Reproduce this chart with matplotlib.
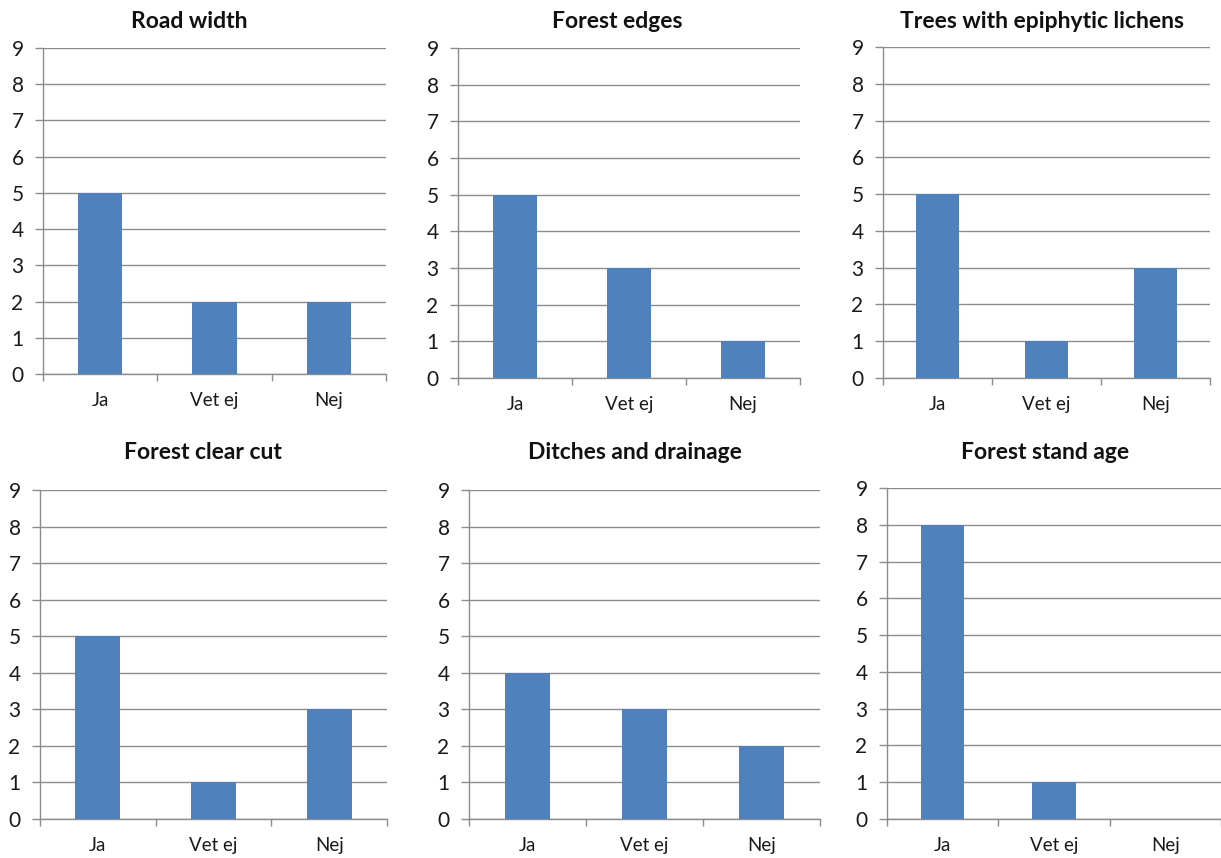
import matplotlib
matplotlib.use("Agg")
import matplotlib.pyplot as plt
import numpy as np

plt.rcParams["font.family"] = ["Lato", "DejaVu Sans"]

categories = ["Ja", "Vet ej", "Nej"]
titles = ["Road width", "Forest edges", "Trees with epiphytic lichens",
          "Forest clear cut", "Ditches and drainage", "Forest stand age"]
road_width = [5, 2, 2]
forest_edges = [5, 3, 1]
epiphytic_lichens = [5, 1, 3]
clear_cut = [5, 1, 3]
ditches = [4, 3, 2]
stand_age = [8, 1, 0]
series = [road_width, forest_edges, epiphytic_lichens, clear_cut, ditches, stand_age]

W, H = 1221, 858
# plot areas in pixels: left, right, top, bottom
boxes = [(43, 386, 48, 374), (458, 800, 48, 378), (883, 1210, 47, 378),
         (40, 387, 490, 819), (469, 820, 490, 819), (887, 1221, 488, 819)]
# chart title centres in pixels (centred on the whole chart block, not the plot area)
title_pos = [(189, 22), (617, 21), (1042, 21), (203, 452), (635, 452), (1045, 452)]

BAR = "#4F81BD"
GRID = "#8c8c8c"
TXT = "#1a1a1a"

fig = plt.figure(figsize=(W / 100, H / 100), dpi=100)
for (l, r, t, b), (tx, ty), title, vals in zip(boxes, title_pos, titles, series):
    ax = fig.add_axes([l / W, 1 - b / H, (r - l) / W, (b - t) / H])
    x = np.arange(len(categories))
    ax.bar(x, vals, width=0.39, color=BAR, zorder=3)
    ax.set_xlim(-0.5, 2.5)
    ax.set_ylim(0, 9)
    ax.set_yticks(range(10))
    ax.yaxis.grid(True, color=GRID, lw=1)
    ax.set_axisbelow(True)
    for s in ["top", "right"]:
        ax.spines[s].set_visible(False)
    for s in ["left", "bottom"]:
        ax.spines[s].set_color(GRID)
        ax.spines[s].set_linewidth(1)
    ax.set_xticks(x)
    ax.set_xticklabels(categories)
    ax.set_xticks([-0.5, 0.5, 1.5, 2.5], minor=True)
    ax.tick_params(axis="x", which="major", length=0, pad=13, labelsize=13.5, colors=TXT)
    ax.tick_params(axis="x", which="minor", length=5, color=GRID, width=1)
    ax.tick_params(axis="y", length=6, color=GRID, width=1, pad=8, labelsize=15, labelcolor=TXT)
    fig.text(tx / W, 1 - ty / H, title, ha="center", va="center",
             fontsize=16.5, fontweight="bold", color="#111111")

fig.savefig("out.png", dpi=100, facecolor="white")
